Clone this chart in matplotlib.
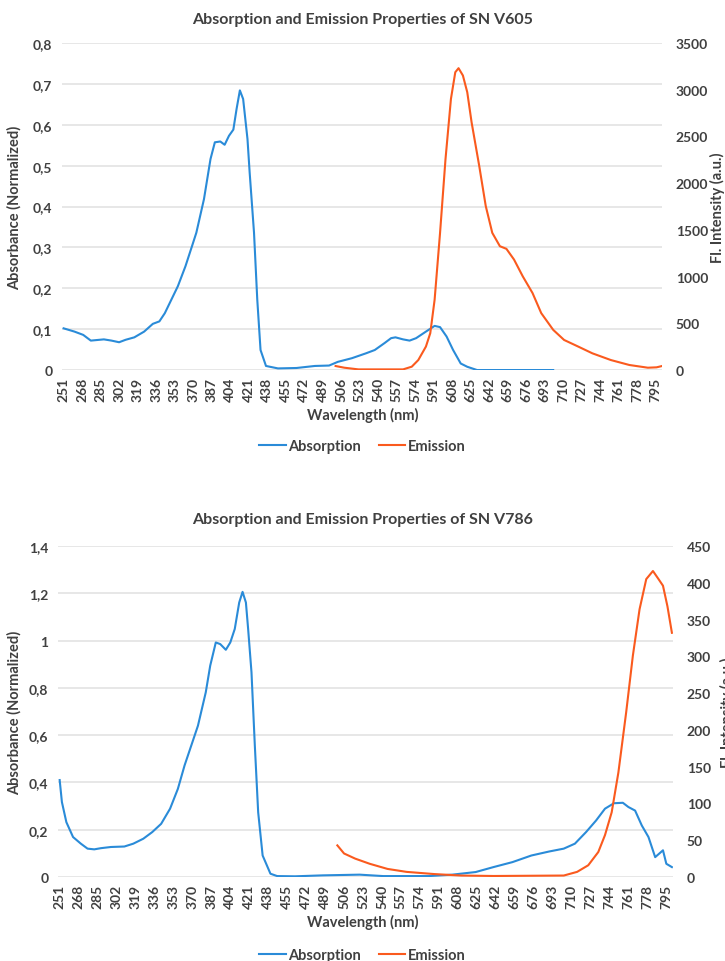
"""Absorption / emission spectra of SN V605 and SN V786 (Excel-style dual axis)."""
import matplotlib

matplotlib.use("Agg")
import matplotlib.pyplot as plt
from matplotlib.lines import Line2D

plt.rcParams["font.family"] = ["Lato", "DejaVu Sans"]

BLUE = "#2a8bd8"
ORANGE = "#fa5a1e"
GRID = "#e3e3e3"
TEXT = "#404040"

TICK_NM = list(range(251, 796, 17))

# --- SN V605 ---
v605_abs_nm = [251, 261, 269, 276, 284, 288, 295, 302, 308, 316, 325, 333, 339, 344, 350,
               356, 363, 369, 373, 380, 386, 390, 395, 399, 403, 407, 410, 413, 416, 420,
               422, 426, 429, 432, 437, 448, 465, 482, 495, 503, 516, 529, 537, 546, 552,
               556, 563, 569, 575, 584, 592, 597, 603, 609, 616, 622, 631, 701]
v605_abs = [0.102, 0.094, 0.086, 0.072, 0.074, 0.075, 0.072, 0.068, 0.074, 0.080, 0.094,
            0.113, 0.119, 0.139, 0.172, 0.205, 0.254, 0.303, 0.336, 0.418, 0.516, 0.557,
            0.559, 0.551, 0.573, 0.588, 0.639, 0.684, 0.663, 0.565, 0.483, 0.336, 0.172,
            0.049, 0.010, 0.004, 0.005, 0.010, 0.011, 0.020, 0.029, 0.041, 0.049, 0.066,
            0.078, 0.080, 0.075, 0.072, 0.078, 0.094, 0.108, 0.105, 0.082, 0.049, 0.016,
            0.008, 0.0, 0.0]
v605_em_nm = [501, 509, 522, 563, 571, 577, 584, 588, 592, 597, 602, 607, 611, 614, 618,
              622, 626, 633, 639, 645, 652, 658, 665, 673, 682, 690, 701, 711, 724, 737,
              754, 771, 788, 796, 801]
v605_em = [43, 25, 7, 7, 36, 107, 251, 394, 752, 1468, 2256, 2901, 3187, 3230, 3152,
           2973, 2650, 2185, 1755, 1468, 1325, 1297, 1182, 1003, 824, 609, 430, 322, 251,
           179, 107, 54, 25, 29, 43]

# --- SN V786 ---
v786_abs_nm = [251, 253, 257, 263, 270, 276, 282, 288, 297, 309, 317, 326, 334, 342, 350,
               357, 363, 369, 375, 382, 386, 391, 395, 400, 404, 408, 412, 415, 418, 420,
               423, 426, 429, 433, 440, 446, 462, 487, 520, 541, 582, 603, 624, 640, 657,
               674, 690, 703, 713, 723, 732, 740, 748, 756, 761, 767, 773, 779, 785, 792,
               795, 800]
v786_abs = [0.41, 0.317, 0.232, 0.169, 0.141, 0.120, 0.117, 0.122, 0.127, 0.129, 0.141,
            0.162, 0.190, 0.225, 0.289, 0.373, 0.472, 0.556, 0.640, 0.781, 0.894, 0.992,
            0.985, 0.961, 0.992, 1.049, 1.161, 1.206, 1.161, 1.049, 0.866, 0.556, 0.274,
            0.091, 0.014, 0.004, 0.003, 0.007, 0.010, 0.004, 0.004, 0.010, 0.021, 0.042,
            0.063, 0.091, 0.108, 0.120, 0.141, 0.190, 0.239, 0.289, 0.312, 0.314, 0.296,
            0.281, 0.218, 0.169, 0.084, 0.113, 0.056, 0.042]
v786_em_nm = [500, 506, 516, 529, 545, 562, 587, 611, 640, 703, 715, 725, 734, 740, 746,
              752, 759, 765, 771, 777, 783, 788, 792, 796, 800]
v786_em = [43, 32, 25, 18, 11, 7, 4, 2, 1.4, 2, 7, 16, 34, 57, 88, 142, 224, 301, 364,
           405, 416, 405, 396, 368, 332]


def fmt_comma(v):
    s = f"{v:.1f}".rstrip("0").rstrip(".")
    return s.replace(".", ",")


def panel(fig, rect, title, title_y, xlabel_y, abs_nm, abs_v, em_nm, em_v,
          yticks, y2ticks, y2label_x):
    ax = fig.add_axes(rect)
    ax2 = ax.twinx()
    ax.plot(abs_nm, abs_v, color=BLUE, lw=1.5, zorder=3)
    ax2.plot(em_nm, em_v, color=ORANGE, lw=1.5, zorder=3)

    ax.set_xlim(249.5, 801)
    ax.set_ylim(yticks[0], yticks[-1])
    ax2.set_ylim(y2ticks[0], y2ticks[-1])
    ax.set_yticks(yticks, [fmt_comma(v) for v in yticks])
    ax2.set_yticks(y2ticks, [str(v) for v in y2ticks])
    ax.set_xticks(TICK_NM, [str(v) for v in TICK_NM], rotation=90)
    ax.grid(axis="y", color=GRID, lw=1.2)
    ax.set_axisbelow(True)
    for a in (ax, ax2):
        for sp in a.spines.values():
            sp.set_visible(False)
        a.tick_params(length=0, labelsize=10, colors=TEXT)
        for lab in a.get_yticklabels() + a.get_xticklabels():
            lab.set_fontweight("bold")
    ax.tick_params(axis="y", pad=7)
    ax2.tick_params(axis="y", pad=10)
    ax.tick_params(axis="x", pad=5)

    fig.text(0.5, title_y, title, ha="center", va="center", fontsize=11.5,
             fontweight="bold", color=TEXT)
    fig.text(0.5, xlabel_y, "Wavelength (nm)", ha="center", va="center",
             fontsize=10.5, fontweight="bold", color=TEXT)
    fig.text(0.020, rect[1] + rect[3] / 2, "Absorbance (Normalized)", rotation=90,
             ha="center", va="center", fontsize=10.5, fontweight="bold", color=TEXT)
    fig.text(y2label_x, rect[1] + rect[3] / 2, "Fl. Intensity (a.u.)", rotation=90,
             ha="center", va="center", fontsize=10.5, fontweight="bold", color=TEXT)
    return ax


fig = plt.figure(figsize=(7.25, 9.62), dpi=100)

panel(fig, [0.0855, 0.6143, 0.8276, 0.340], "Absorption and Emission Properties of SN V605",
      0.979, 0.5686, v605_abs_nm, v605_abs, v605_em_nm, v605_em,
      [0, 0.1, 0.2, 0.3, 0.4, 0.5, 0.6, 0.7, 0.8],
      [0, 500, 1000, 1500, 2000, 2500, 3000, 3500], 0.990)
panel(fig, [0.080, 0.0873, 0.8483, 0.3441], "Absorption and Emission Properties of SN V786",
      0.4595, 0.0416, v786_abs_nm, v786_abs, v786_em_nm, v786_em,
      [0, 0.2, 0.4, 0.6, 0.8, 1.0, 1.2, 1.4],
      [0, 50, 100, 150, 200, 250, 300, 350, 400, 450], 1.004)

handles = [Line2D([], [], color=BLUE, lw=1.5), Line2D([], [], color=ORANGE, lw=1.5)]
for ly in (0.535, 0.006):
    fig.legend(handles, ["Absorption", "Emission"], loc="center", bbox_to_anchor=(0.5, ly),
               ncol=2, frameon=False, handlelength=1.8, handletextpad=0.2,
               columnspacing=1.2, prop={"weight": "bold", "size": 10.5},
               labelcolor=TEXT)

fig.savefig("out.png", dpi=100)
